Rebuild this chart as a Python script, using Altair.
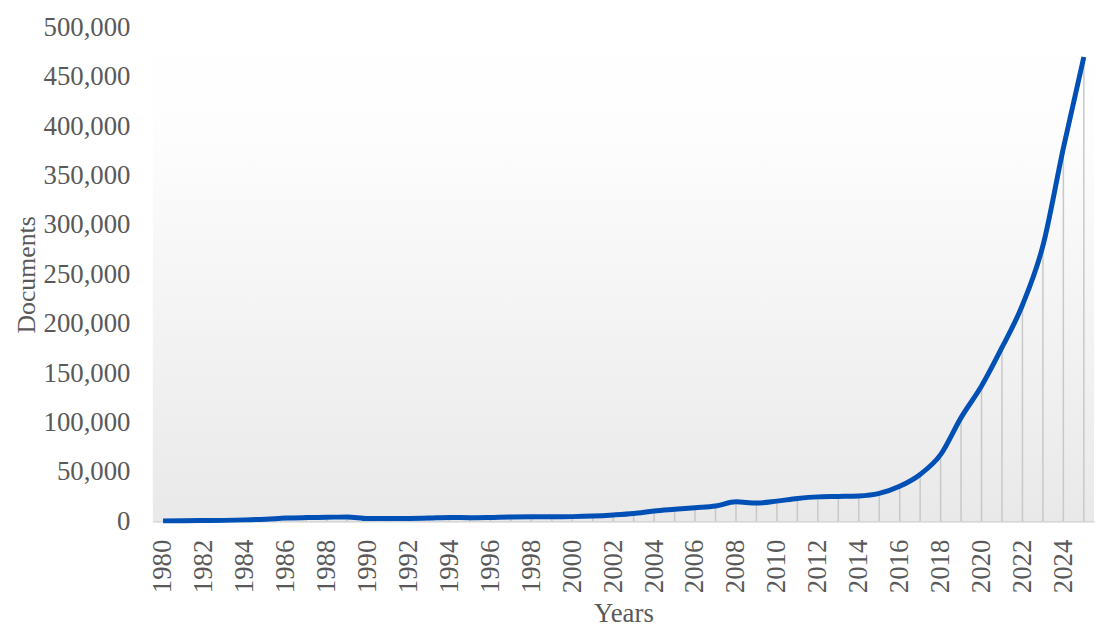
import altair as alt
import pandas as pd

years = list(range(1980, 2026))
documents = [
    500, 600, 800, 1000, 1500, 2200, 3300, 3800, 4100, 4500,
    2800, 2800, 2900, 3300, 3900, 3700, 4000, 4500, 4600, 4600,
    4800, 5400, 6500, 8000, 10500, 12200, 13800, 15500, 19800, 18500,
    20500, 23200, 24800, 25200, 25700, 28300, 35500, 47500, 67500, 105000,
    137000, 176000, 219000, 279000, 378000, 470000,
]
x_ticks = list(range(1980, 2025, 2))
y_ticks = list(range(0, 500001, 50000))

df = pd.DataFrame({"Year": years, "Documents": documents})

W, H = 949, 498
FONT = "Liberation Serif"
TXT = "#595959"

bg = alt.Chart(pd.DataFrame({"a": [0]})).mark_rect(
    color=alt.LinearGradient(
        gradient="linear",
        stops=[
            alt.GradientStop(color="#ffffff", offset=0),
            alt.GradientStop(color="#fdfdfd", offset=0.22),
            alt.GradientStop(color="#e9e9e9", offset=1),
        ],
        x1=0, x2=0, y1=0, y2=1,
    )
).encode(x=alt.value(0), x2=alt.value(W), y=alt.value(0), y2=alt.value(H))

xenc = alt.X(
    "Year:Q",
    scale=alt.Scale(domain=[1979.5, 2025.5], nice=False, zero=False),
    axis=alt.Axis(
        values=x_ticks, format="d", labelAngle=270, title="Years",
        grid=False, ticks=False, domain=True, domainColor="#d0d0d0", domainWidth=1.5,
        labelFont=FONT, labelFontSize=27, labelColor=TXT, labelPadding=18,
        titleFont=FONT, titleFontSize=27, titleColor=TXT, titleFontWeight="normal",
        titlePadding=8, labelFlush=False, labelOverlap=False,
    ),
)
yenc = alt.Y(
    "Documents:Q",
    scale=alt.Scale(domain=[0, 500000], nice=False),
    axis=alt.Axis(
        values=y_ticks, format=",.0f", title="Documents",
        grid=False, ticks=False, domain=False,
        labelFont=FONT, labelFontSize=27, labelColor=TXT, labelPadding=23,
        titleFont=FONT, titleFontSize=26, titleColor=TXT, titleFontWeight="normal",
        titlePadding=4, labelFlush=False, labelOverlap=False,
    ),
)

drops = alt.Chart(df).mark_rule(color="#c8c8c8", strokeWidth=1.5).encode(
    x=xenc, y=yenc, y2=alt.datum(0)
)
line = alt.Chart(df).mark_line(
    color="#0050b5", strokeWidth=5, interpolate="monotone"
).encode(x=xenc, y=yenc)

chart = alt.layer(bg, drops, line).properties(
    width=W, height=H,
    autosize=alt.AutoSizeParams(type="none"),
    padding={"left": 146, "top": 17, "right": 8, "bottom": 112},
).configure_view(stroke=None)

chart.save("out.html", embed_options={"renderer": "svg", "actions": False})
